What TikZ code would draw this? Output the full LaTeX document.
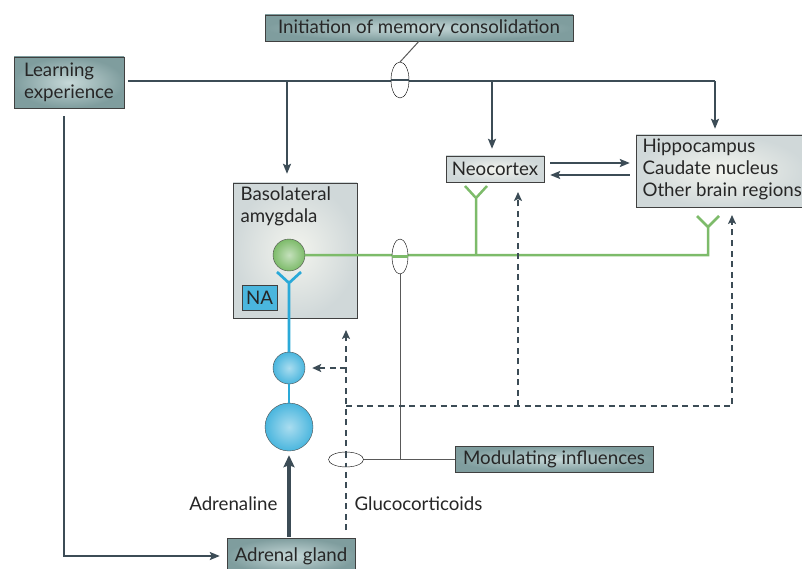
\documentclass[tikz,border=0pt]{standalone}
\usepackage{fontspec}
\setmainfont{Lato}
\usepackage{tikz}
\usetikzlibrary{arrows.meta, shapes.geometric}

\definecolor{slate}{HTML}{3C4C56}
\definecolor{tealdark}{HTML}{7F9D9E}
\definecolor{teallight}{HTML}{C6D8D8}
\definecolor{greydark}{HTML}{D0D8D9}
\definecolor{greylight}{HTML}{F3F4EE}
\definecolor{nervegreen}{HTML}{7DBB6A}
\definecolor{nerveblue}{HTML}{2AA9D8}

\tikzset{
	tealbox/.style={draw=black!75, inner color=teallight, outer color=tealdark, inner sep=0pt},
	greybox/.style={draw=black!75, inner color=greylight, outer color=greydark, inner sep=0pt},
	oval/.style={draw, fill=white, ellipse, inner sep=0pt, thin},
	mainline/.style={slate, line width=2.8pt},
	mainarrow/.style={mainline, -{Stealth[length=10pt, width=8pt, inset=2pt]}},
	dasharrow/.style={slate, line width=2.4pt, dash pattern=on 6pt off 4.5pt, -{Stealth[length=9pt, width=8pt, inset=2pt]}},
	greenfork/.style={nervegreen, line width=2.5pt},
	bluefork/.style={nerveblue, line width=2.7pt},
	txt/.style={font=\fontsize{18.7}{22}\selectfont, text=black!85}
}

\begin{document}
\begin{tikzpicture}[x=1pt, y=-1pt]
	\useasboundingbox (0,0) rectangle (802,569);
	
	% Kaesten
	\node[tealbox, txt, minimum width=308pt, minimum height=26pt] (init) at (419,28) {Initiation of memory consolidation};
	\node[tealbox, txt, minimum width=110pt, minimum height=51pt, align=left] (learn) at (69,82.5) {Learning\\experience};
	\node[greybox, minimum width=124pt, minimum height=135pt] (bla) at (295,250.5) {};
	\node[txt, anchor=north west, align=left] (blatext) at (237,183) {Basolateral\\amygdala};
	\node[greybox, txt, minimum width=98pt, minimum height=26pt] (neo) at (495,169) {Neocortex};
	\node[greybox, minimum width=170pt, minimum height=72pt] (hip) at (721,171) {};
	\node[txt, anchor=north west, align=left] (hiptext) at (639,135) {Hippocampus\\Caudate nucleus\\Other brain regions};
	\node[tealbox, txt, minimum width=198pt, minimum height=26pt] (modul) at (554,459) {Modulating influences};
	\node[tealbox, txt, minimum width=128pt, minimum height=36pt] (adrenal) at (291,556) {Adrenal gland};
	\node[draw=black!75, fill=nerveblue!85, txt, minimum width=35pt, minimum height=25pt, inner sep=0pt] (na) at (259.5,297.5) {NA};
	
	% Zellen
	\node[circle, draw=black!70, inner color=nervegreen!45, outer color=nervegreen, minimum size=32pt, inner sep=0pt] (g1) at (289,255) {};
	\node[circle, draw=black!70, inner color=nerveblue!40, outer color=nerveblue!85, minimum size=32pt, inner sep=0pt] (b1) at (289,368) {};
	\node[circle, draw=black!70, inner color=nerveblue!40, outer color=nerveblue!85, minimum size=48pt, inner sep=0pt] (b2) at (289,427) {};
	
	% Lernerfahrung -> Hirnregionen
	\coordinate (mainL) at (128,81);
	\coordinate (mainR) at (715,81);
	\coordinate (tBla) at (287,81);
	\coordinate (tNeo) at (492,81);
	\draw[mainline] (mainL) -- (mainR);
	\draw[mainarrow, shorten >=6pt] (mainR) -- (mainR |- hip.north);
	\draw[mainarrow, shorten >=9pt] (tBla) -- (tBla |- bla.north);
	\draw[mainarrow, shorten >=7pt] (tNeo) -- (tNeo |- neo.north);
	
	% Neocortex <-> Hippocampus
	\draw[mainarrow, shorten <=6pt, shorten >=6pt] ([yshift=6pt]neo.east) -- ([yshift=6pt]neo.east -| hip.west);
	\draw[mainarrow, shorten <=6pt, shorten >=6pt] ([yshift=-6pt]neo.east -| hip.west) -- ([yshift=-6pt]neo.east);
	
	% Lernerfahrung -> Nebenniere
	\coordinate (lcorner) at (64,556);
	\draw[mainarrow, shorten <=8pt, shorten >=7pt] (learn.south -| lcorner) -- (lcorner) -- (adrenal.west);
	\draw[slate, line width=4pt, -{Stealth[length=12pt, width=11pt, inset=2pt]}, shorten <=1pt, shorten >=4pt] (b2.south |- adrenal.north) -- (b2.south);
	
	% gruene Bahn
	\coordinate (gR) at (708,255);
	\draw[greenfork] (g1.east) -- (gR) -- (708,227) -- (697,216) (708,227) -- (719,216);
	\draw[greenfork] (476,255) -- (476,198) -- (465,186) (476,198) -- (487,186);
	
	% blaue Bahn
	\draw[bluefork] (277,272) -- (289,283) -- (301,272) (289,283) -- (b1.north);
	\draw[bluefork] (b1.south) -- (b2.north);
	
	% modulierende Einfluesse
	\coordinate (mjoin) at (400,459);
	\draw[black!65, line width=1pt] (init.south) -- (400,62);
	\draw[black!65, line width=1pt] (400,274) -- (mjoin) -- (modul.west);
	\draw[black!65, line width=1pt] (363,459) -- (mjoin);
	
	% gestrichelte Pfeile
	\coordinate (dBot) at (346,530);
	\coordinate (dMid) at (346,406);
	\coordinate (dRight) at (732,406);
	\coordinate (dNeo) at (518,406);
	\draw[dasharrow] (dBot) -- (346,330);
	\draw[dasharrow, shorten >=7pt] (346,368) -- (b1.east);
	\draw[dasharrow] (dMid) -- (dRight) -- (732,215);
	\draw[dasharrow] (dNeo) -- (518,192);
	
	% Ovale
	\node[oval, minimum width=18pt, minimum height=36pt] (o1) at (400,80) {};
	\node[oval, minimum width=16pt, minimum height=35pt] (o2) at (400,256.5) {};
	\node[oval, minimum width=35pt, minimum height=15pt] (o3) at (346,459.5) {};
	\draw[slate, line width=2.4pt, dash pattern=on 6pt off 4.5pt] (346,452) -- (346,467);
	\draw[nervegreen, line width=2.5pt] (o2.west) -- (o2.east);
	\draw[mainline] (o1.west) -- (o1.east);
	
	% Hormone
	\node[txt, anchor=east] (adrenaline) at (281,504) {Adrenaline};
	\node[txt, anchor=west] (gluco) at (351,504) {Glucocorticoids};
\end{tikzpicture}
\end{document}
